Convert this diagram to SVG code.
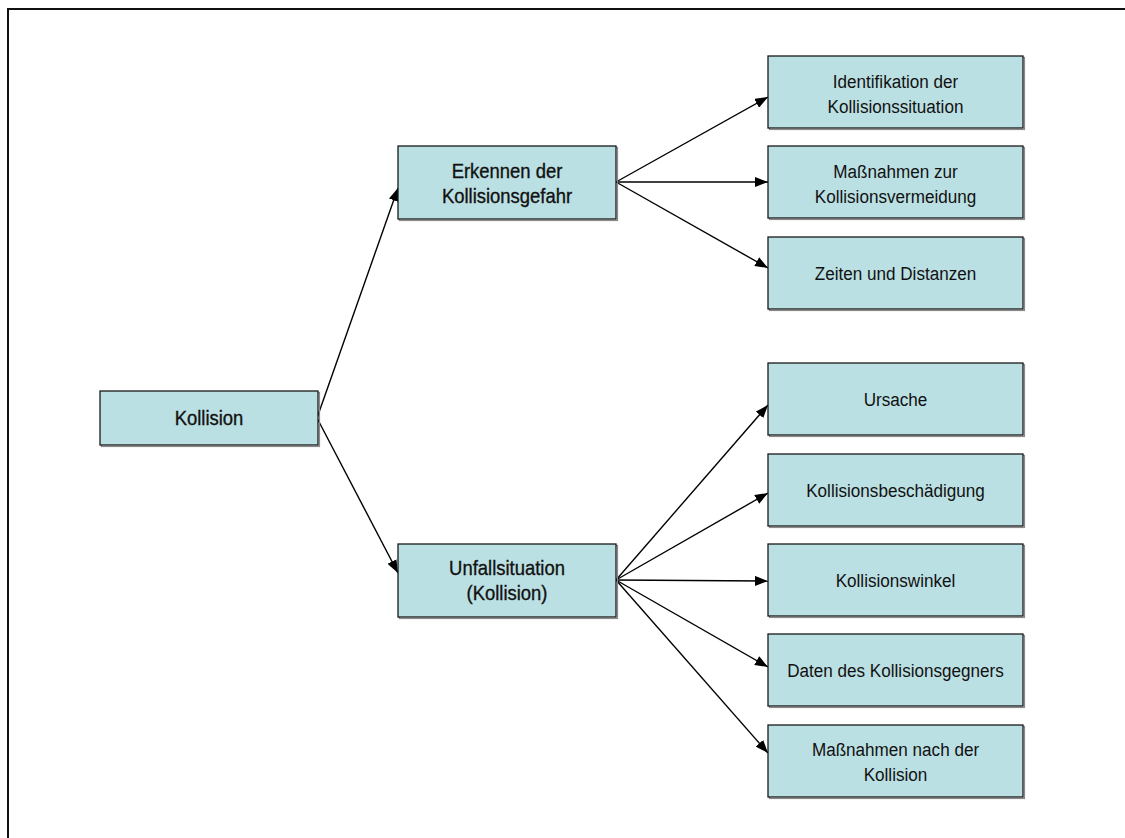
<svg xmlns="http://www.w3.org/2000/svg" width="1125" height="838" viewBox="0 0 1125 838">
  <style>
    .box { fill: #bbe0e3; stroke: #1a1a1a; stroke-width: 1.3; }
    .shadow { fill: none; stroke: #8a8a8a; stroke-width: 1.2; }
    .t { font-family: "Liberation Sans", Arial, sans-serif; fill: #111; text-anchor: middle; }
    .lg { font-size: 20.5px; stroke: #111; stroke-width: 0.35; }
    .sm { font-size: 19px; }
    .edge { stroke: #000; stroke-width: 1.4; fill: none; marker-end: url(#arrow); }
  </style>
  <defs>
    <marker id="arrow" viewBox="0 0 13 10" refX="13" refY="5" markerWidth="13" markerHeight="10" markerUnits="userSpaceOnUse" orient="auto">
      <path d="M0,0 L13,5 L0,10 Z" fill="#000"/>
    </marker>
  </defs>

  <rect width="1125" height="838" fill="#fff"/>
  <!-- outer frame, running off the right and bottom edges -->
  <rect x="8" y="9" width="1200" height="900" fill="none" stroke="#111" stroke-width="2"/>

  <g id="connectors">
    <line class="edge" x1="317" y1="418" x2="398" y2="188"/>
    <line class="edge" x1="317" y1="418" x2="398" y2="573"/>
    <line class="edge" x1="616" y1="182" x2="768" y2="97"/>
    <line class="edge" x1="616" y1="182" x2="768" y2="182"/>
    <line class="edge" x1="616" y1="182" x2="768" y2="268"/>
    <line class="edge" x1="616" y1="580" x2="768" y2="405"/>
    <line class="edge" x1="616" y1="580" x2="768" y2="493"/>
    <line class="edge" x1="616" y1="580" x2="768" y2="581"/>
    <line class="edge" x1="616" y1="580" x2="768" y2="667"/>
    <line class="edge" x1="616" y1="580" x2="768" y2="753"/>
  </g>

  <!-- labels use a slightly condensed Arial-like face: scale(0.9,1) around each centre -->
  <g id="kollision">
    <rect class="shadow" x="101.5" y="392.5" width="218" height="54"/>
    <rect class="box" x="100" y="391" width="218" height="54"/>
    <text class="t lg" transform="translate(209 425) scale(0.9 1)">Kollision</text>
  </g>

  <g id="erkennen">
    <rect class="shadow" x="399.5" y="147.5" width="218" height="73"/>
    <rect class="box" x="398" y="146" width="218" height="73"/>
    <text class="t lg" transform="translate(507 178) scale(0.9 1)">Erkennen der</text>
    <text class="t lg" transform="translate(507 203) scale(0.9 1)">Kollisionsgefahr</text>
  </g>

  <g id="unfallsituation">
    <rect class="shadow" x="399.5" y="545.5" width="218" height="73"/>
    <rect class="box" x="398" y="544" width="218" height="73"/>
    <text class="t lg" transform="translate(507 575) scale(0.9 1)">Unfallsituation</text>
    <text class="t lg" transform="translate(507 600) scale(0.9 1)">(Kollision)</text>
  </g>

  <g id="identifikation">
    <rect class="shadow" x="769.5" y="57.5" width="255" height="72"/>
    <rect class="box" x="768" y="56" width="255" height="72"/>
    <text class="t sm" transform="translate(895.5 88) scale(0.9 1)">Identifikation der</text>
    <text class="t sm" transform="translate(895.5 113) scale(0.9 1)">Kollisionssituation</text>
  </g>

  <g id="vermeidung">
    <rect class="shadow" x="769.5" y="147.5" width="255" height="72"/>
    <rect class="box" x="768" y="146" width="255" height="72"/>
    <text class="t sm" transform="translate(895.5 178) scale(0.9 1)">Maßnahmen zur</text>
    <text class="t sm" transform="translate(895.5 203) scale(0.9 1)">Kollisionsvermeidung</text>
  </g>

  <g id="zeiten">
    <rect class="shadow" x="769.5" y="238.5" width="255" height="72"/>
    <rect class="box" x="768" y="237" width="255" height="72"/>
    <text class="t sm" transform="translate(895.5 280) scale(0.9 1)">Zeiten und Distanzen</text>
  </g>

  <g id="ursache">
    <rect class="shadow" x="769.5" y="364.5" width="255" height="72"/>
    <rect class="box" x="768" y="363" width="255" height="72"/>
    <text class="t sm" transform="translate(895.5 406) scale(0.9 1)">Ursache</text>
  </g>

  <g id="beschaedigung">
    <rect class="shadow" x="769.5" y="455.5" width="255" height="72"/>
    <rect class="box" x="768" y="454" width="255" height="72"/>
    <text class="t sm" transform="translate(895.5 497) scale(0.9 1)">Kollisionsbeschädigung</text>
  </g>

  <g id="winkel">
    <rect class="shadow" x="769.5" y="545.5" width="255" height="72"/>
    <rect class="box" x="768" y="544" width="255" height="72"/>
    <text class="t sm" transform="translate(895.5 587) scale(0.9 1)">Kollisionswinkel</text>
  </g>

  <g id="gegner">
    <rect class="shadow" x="769.5" y="635.5" width="255" height="72"/>
    <rect class="box" x="768" y="634" width="255" height="72"/>
    <text class="t sm" transform="translate(895.5 677) scale(0.9 1)">Daten des Kollisionsgegners</text>
  </g>

  <g id="nach-kollision">
    <rect class="shadow" x="769.5" y="726.5" width="255" height="72"/>
    <rect class="box" x="768" y="725" width="255" height="72"/>
    <text class="t sm" transform="translate(895.5 756) scale(0.9 1)">Maßnahmen nach der</text>
    <text class="t sm" transform="translate(895.5 781) scale(0.9 1)">Kollision</text>
  </g>
</svg>
